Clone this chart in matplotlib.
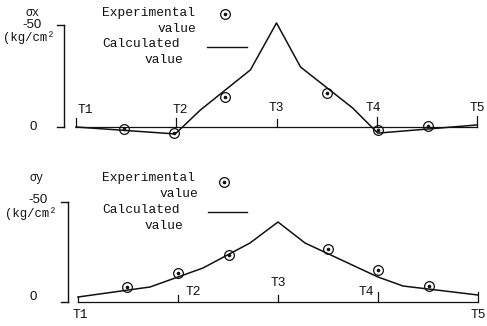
import matplotlib
matplotlib.use("Agg")
import matplotlib.pyplot as plt
from matplotlib.lines import Line2D

W, H = 487, 326
DPI = 100

# Stations along the member
stations = [1, 2, 3, 4, 5]
station_labels = ["T1", "T2", "T3", "T4", "T5"]

# sigma_x (kg/cm^2), negative = compression
sx_calc_pos = [1.0, 1.99, 2.24, 2.74, 3.0, 3.24, 3.76, 4.01, 5.0]
sx_calc_val = [0.0, 3.4, -8.3, -28.0, -51.0, -29.4, -9.3, 3.0, -1.0]
sx_exp_pos = [1.48, 1.98, 2.49, 3.50, 4.01, 4.51]
sx_exp_val = [1.0, 3.0, -14.7, -16.7, 1.5, -0.3]

# sigma_y (kg/cm^2)
sy_calc_pos = [1.0, 1.72, 2.0, 2.25, 2.72, 3.0, 3.27, 4.0, 4.25, 5.0]
sy_calc_val = [-2.5, -7.5, -12.5, -17.0, -29.5, -40.0, -29.5, -12.5, -8.0, -3.5]
sy_exp_pos = [1.49, 2.0, 2.51, 3.5, 4.0, 4.51]
sy_exp_val = [-7.5, -14.5, -23.5, -26.5, -16.0, -8.0]

MONO = "Liberation Mono"
SANS = "Liberation Sans"
FS = 9.3
INK = "#111111"

fig = plt.figure(figsize=(W / DPI, H / DPI), dpi=DPI)
fig.patch.set_facecolor("white")


def fx(px):
    return px / W


def fy(py):
    return 1 - py / H


def ftext(px, py, s, ha="center", va="center", family=MONO, size=FS):
    fig.text(fx(px), fy(py), s, ha=ha, va=va, family=family, size=size, color=INK)


def fline(x0, x1, y0, y1, lw=1.0):
    fig.add_artist(Line2D([fx(x0), fx(x1)], [fy(y0), fy(y1)],
                          transform=fig.transFigure, color=INK, lw=lw))


def fmarker(px, py):
    fig.add_artist(Line2D([fx(px)], [fy(py)], transform=fig.transFigure,
                          marker="o", ms=7, mfc="none", mec=INK, mew=0.9, ls="none"))
    fig.add_artist(Line2D([fx(px)], [fy(py)], transform=fig.transFigure,
                          marker="o", ms=1.6, mfc=INK, mec=INK, ls="none"))


def panel(top_px, bot_px, x_t1, x_step, y_zero, px_per_unit, axis_x,
          calc_pos, calc_val, exp_pos, exp_val, tick_heights, label_pos):
    ax = fig.add_axes([0, fy(bot_px), 1, (bot_px - top_px) / H])
    ax.set_facecolor("none")
    ax.set_xlim(1 - x_t1 / x_step, 1 + (W - x_t1) / x_step)
    ax.set_ylim((bot_px - y_zero) / px_per_unit, (top_px - y_zero) / px_per_unit)
    for s in ("top", "right", "left", "bottom"):
        ax.spines[s].set_visible(False)
    ax.set_xticks([])
    ax.set_yticks([])

    # station baseline with its tick marks
    ax.plot([stations[0], stations[-1]], [0, 0], color=INK, lw=0.9, clip_on=False)
    for st, h in zip(stations, tick_heights):
        ax.plot([st, st], [0, -h / px_per_unit], color=INK, lw=0.9, clip_on=False)

    # stress axis: bracket from 0 to -50
    xa = 1 + (axis_x - x_t1) / x_step
    xt = 1 + (axis_x - 7 - x_t1) / x_step
    ax.plot([xa, xa], [0, -50], color=INK, lw=1.0, clip_on=False)
    ax.plot([xt, xa], [0, 0], color=INK, lw=1.0, clip_on=False)
    ax.plot([xt, xa], [-50, -50], color=INK, lw=1.0, clip_on=False)

    # calculated values
    ax.plot(calc_pos, calc_val, color=INK, lw=1.1, clip_on=False)
    # experimental values
    ax.plot(exp_pos, exp_val, ls="none", marker="o", ms=7, mfc="none",
            mec=INK, mew=0.9, clip_on=False)
    ax.plot(exp_pos, exp_val, ls="none", marker="o", ms=1.6, mfc=INK,
            mec=INK, clip_on=False)

    for (lx, ly), lab in zip(label_pos, station_labels):
        ftext(lx, ly, lab)
    return ax


# upper panel: sigma_x
panel(0, 163, 76, 100.25, 127, 2.04, 64,
      sx_calc_pos, sx_calc_val, sx_exp_pos, sx_exp_val,
      [9, 9, 8, 10, 11],
      [(85, 110), (180, 110), (276, 108), (373, 108), (477, 108)])
ftext(33, 13, "σx", size=8.5)
ftext(32, 25, "-50", family=SANS, size=9.5)
ftext(3, 38, "(kg/cm²", ha="left", size=8.8)
ftext(33, 127, "0", family=SANS, size=9.5)
ftext(102, 13, "Experimental", ha="left")
ftext(196, 29, "value", ha="right")
ftext(102, 44, "Calculated", ha="left")
ftext(183, 60, "value", ha="right")
fmarker(225, 14)
fline(207, 247, 47, 47)

# lower panel: sigma_y
panel(163, 326, 78, 100.0, 302, 2.0, 68,
      sy_calc_pos, sy_calc_val, sy_exp_pos, sy_exp_val,
      [5, 7, 7, 10, 10],
      [(80, 315), (193, 292), (278, 283), (366, 292), (478, 315)])
ftext(37, 178, "σy", size=8.5)
ftext(38, 200, "-50", family=SANS, size=9.5)
ftext(5, 214, "(kg/cm²", ha="left", size=8.8)
ftext(33, 297, "0", family=SANS, size=9.5)
ftext(102, 178, "Experimental", ha="left")
ftext(198, 194, "value", ha="right")
ftext(102, 210, "Calculated", ha="left")
ftext(183, 226, "value", ha="right")
fmarker(224, 182)
fline(208, 247, 212, 212)

fig.savefig("out.png", dpi=DPI, facecolor="white")
